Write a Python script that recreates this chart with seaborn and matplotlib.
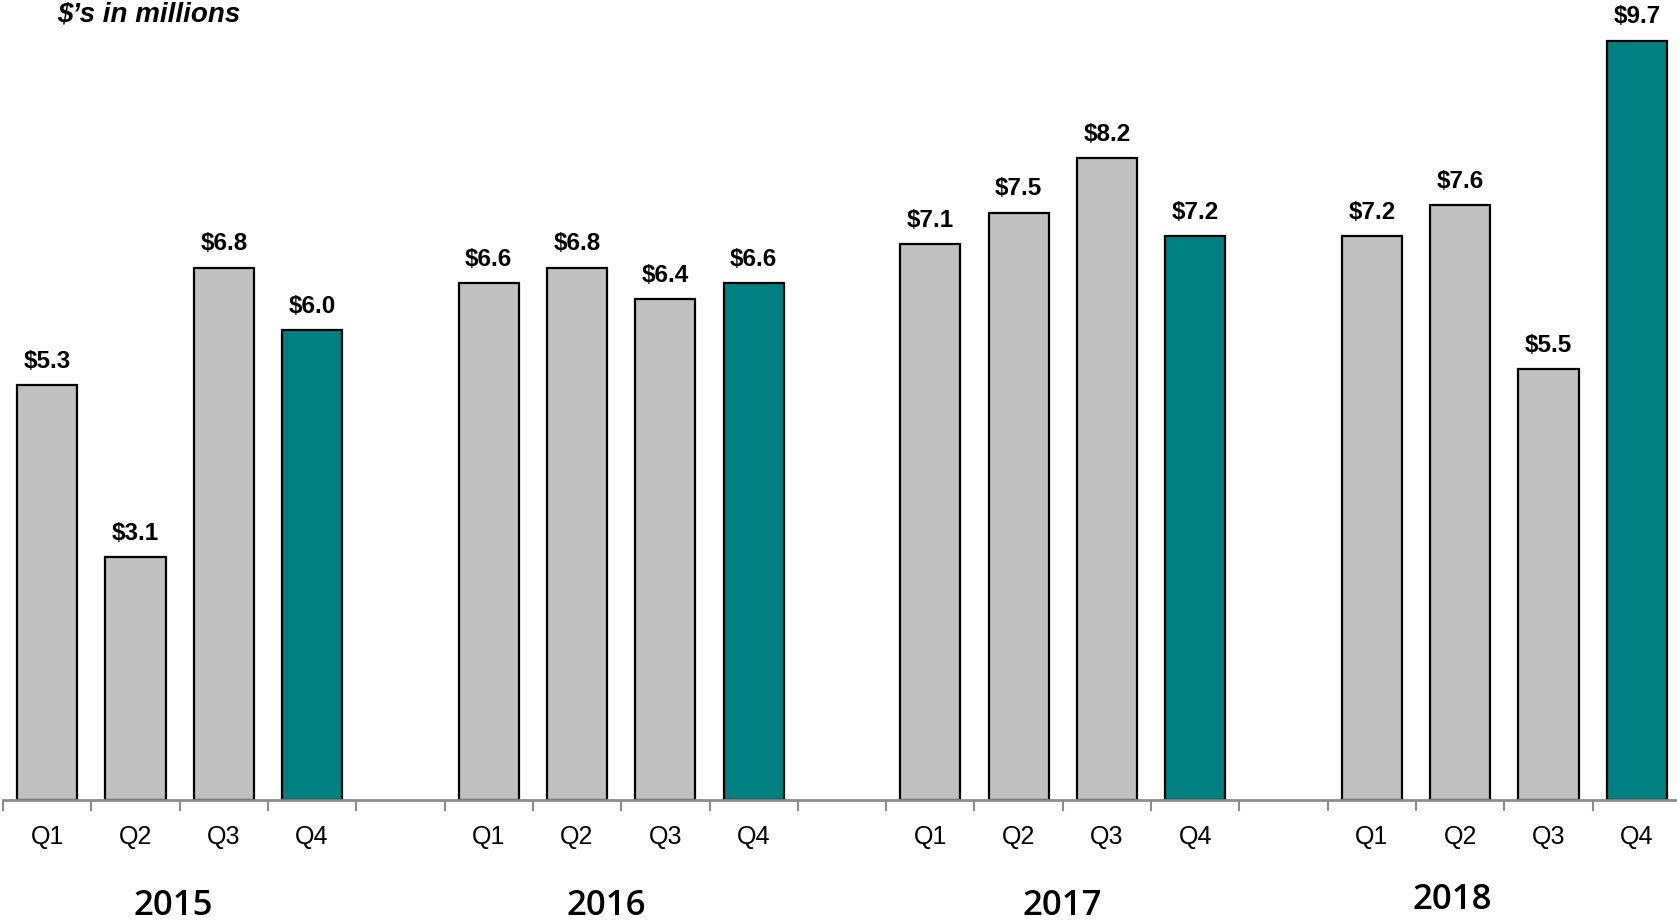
import numpy as np
import pandas as pd
import matplotlib
matplotlib.use("Agg")
import matplotlib.pyplot as plt
import seaborn as sns

years = ["2015", "2016", "2017", "2018"]
quarters = ["Q1", "Q2", "Q3", "Q4"]
values_2015 = [5.3, 3.1, 6.8, 6.0]
values_2016 = [6.6, 6.8, 6.4, 6.6]
values_2017 = [7.1, 7.5, 8.2, 7.2]
values_2018 = [7.2, 7.6, 5.5, 9.7]
# where the year captions sit (in slot units)
year_label_x = [1.43, 6.33, 11.49, 15.91]
year_label_dy = [0, 0, 0, 6]

sns.set_theme(style="white")
plt.rcParams["font.family"] = ["Liberation Sans", "DejaVu Sans"]
plt.rcParams["text.color"] = "black"

rows = []
order = []
for i, (yr, vals) in enumerate(zip(years, [values_2015, values_2016, values_2017, values_2018])):
    for q, v in zip(quarters, vals):
        slot = f"{yr} {q}"
        order.append(slot)
        rows.append({"slot": slot, "value": v, "kind": "Q4" if q == "Q4" else "other"})
    if i < len(years) - 1:
        order.append(f"gap{i}")
df = pd.DataFrame(rows)

fig = plt.figure(figsize=(16.77, 9.23), dpi=100)
# axis runs a little past the right edge, like the original slide
ax = fig.add_axes([3 / 1677, 123 / 923, 1678 / 1677, 1 - 123 / 923])

sns.barplot(data=df, x="slot", y="value", hue="kind", order=order,
            palette={"other": "#C0C0C0", "Q4": "#008080"}, dodge=False, saturation=1,
            width=0.68, edgecolor="black", linewidth=1.6, legend=False, ax=ax)

ax.set_xlim(-0.5, len(order) - 0.5)
ax.set_ylim(0, 10.22)

# value labels
for _, r in df.iterrows():
    x = order.index(r["slot"])
    ax.annotate(f"${r['value']:.1f}", (x, r["value"]), xytext=(0, 9),
                textcoords="offset points", ha="center", va="bottom",
                fontsize=17.5, fontweight="bold", color="black")

# quarter tick labels, tick marks between slots
ax.set_xticks(range(len(order)))
ax.set_xticklabels([s.split(" ")[1] if " " in s else "" for s in order], fontsize=18)
ax.tick_params(axis="x", which="major", length=0, pad=18, colors="black")
ax.set_xticks(np.arange(-0.5, len(order), 1), minor=True)
ax.tick_params(axis="x", which="minor", bottom=True, length=8, width=1.5, color="#8c8c8c")
ax.set_yticks([])
ax.set_xlabel("")
ax.set_ylabel("")
for side in ["left", "right", "top"]:
    ax.spines[side].set_visible(False)
ax.spines["bottom"].set_color("#8c8c8c")
ax.spines["bottom"].set_linewidth(2)

for yr, xpos, dy in zip(years, year_label_x, year_label_dy):
    ax.annotate(yr, (xpos, 0), xycoords=("data", "axes fraction"), xytext=(0, -106 + dy),
                textcoords="offset pixels", ha="center", va="center", color="black",
                fontsize=25, fontweight="semibold", family=["Open Sans", "DejaVu Sans"])

fig.text(57 / 1677, 1 - 14 / 923, "$\u2019s in millions", ha="left", va="center",
         fontsize=20, fontweight="bold", fontstyle="italic", color="black")

fig.savefig("out.png", dpi=100)
